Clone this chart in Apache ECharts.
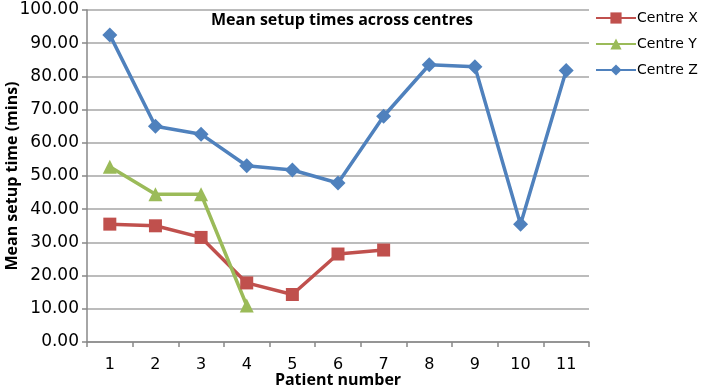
<!DOCTYPE html>
<html>
<head>
<meta charset="utf-8">
<script src="https://cdn.jsdelivr.net/npm/echarts@6/dist/echarts.min.js"></script>
<style>
  html, body { margin: 0; padding: 0; background: #fff; }
  #chart { width: 702px; height: 390px; }
</style>
</head>
<body>
<div id="chart"></div>
<script>
// patient numbers on the x axis
const patients = ['1', '2', '3', '4', '5', '6', '7', '8', '9', '10', '11'];

// mean setup times (mins) per centre
const centreX = [35.5, 35.0, 31.5, 17.8, 14.3, 26.5, 27.7, null, null, null, null];
const centreY = [52.8, 44.5, 44.5, 11.0, null, null, null, null, null, null, null];
const centreZ = [92.5, 65.0, 62.6, 53.1, 51.8, 47.9, 68.0, 83.5, 82.9, 35.5, 81.8];

const chart = echarts.init(document.getElementById('chart'));
const font = 'Open Sans';
const tickFont = 'DejaVu Sans';

const option = {
  animation: false,
  title: {
    text: 'Mean setup times across centres',
    left: 206,
    top: 7,
    textStyle: { fontFamily: font, fontSize: 16, fontWeight: 'bold', color: '#000' }
  },
  legend: {
    orient: 'vertical',
    left: 590,
    top: 6,
    itemWidth: 40,
    itemHeight: 14,
    itemGap: 12,
    textStyle: { fontFamily: tickFont, fontSize: 14, color: '#000', padding: [0, 0, 0, -4] },
    data: ['Centre X', 'Centre Y', 'Centre Z']
  },
  grid: { left: 87, right: 113, top: 10, bottom: 48, outerBoundsMode: 'none' },
  xAxis: {
    type: 'category',
    data: patients,
    boundaryGap: true,
    name: 'Patient number',
    nameLocation: 'middle',
    nameGap: 30,
    nameMoveOverlap: false,
    nameTextStyle: { fontFamily: font, fontSize: 16, fontWeight: 'bold', color: '#000' },
    axisLine: { lineStyle: { color: '#888', width: 1.5 } },
    axisTick: { show: true, alignWithLabel: false, length: 5, lineStyle: { color: '#888', width: 1.5 } },
    axisLabel: { fontFamily: tickFont, fontSize: 16, color: '#000', margin: 15 }
  },
  yAxis: {
    type: 'value',
    min: 0,
    max: 100,
    interval: 10,
    name: 'Mean setup time (mins)',
    nameLocation: 'middle',
    nameGap: 67,
    nameMoveOverlap: false,
    nameTextStyle: { fontFamily: font, fontSize: 16, fontWeight: 'bold', color: '#000' },
    axisLine: { show: true, lineStyle: { color: '#888', width: 1.5 } },
    axisTick: { show: true, length: 5, lineStyle: { color: '#888', width: 1.5 } },
    axisLabel: {
      fontFamily: tickFont, fontSize: 17, color: '#000', margin: 8,
      formatter: v => v.toFixed(2)
    },
    splitLine: { lineStyle: { color: '#a6a6a6', width: 1.5 } }
  },
  series: [
    {
      name: 'Centre X',
      type: 'line',
      data: centreX,
      color: '#c0504d',
      symbol: 'rect',
      symbolSize: 13,
      lineStyle: { width: 3.5 }
    },
    {
      name: 'Centre Y',
      type: 'line',
      data: centreY,
      color: '#9bbb59',
      symbol: 'triangle',
      symbolSize: 14,
      lineStyle: { width: 3.5 }
    },
    {
      name: 'Centre Z',
      type: 'line',
      data: centreZ,
      color: '#4f81bd',
      symbol: 'diamond',
      symbolSize: 15,
      lineStyle: { width: 3.5 }
    }
  ]
};

chart.setOption(option);
</script>
</body>
</html>
